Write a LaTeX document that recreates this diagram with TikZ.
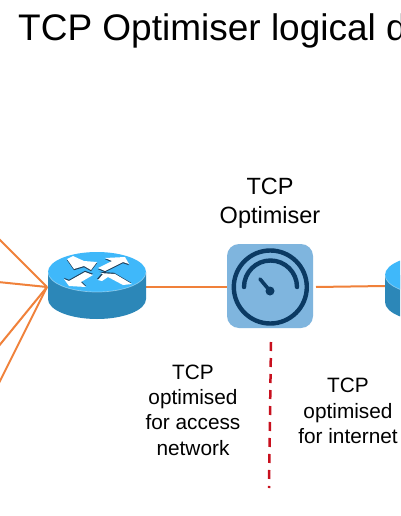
\documentclass[tikz,border=0pt]{standalone}
\usepackage{fontspec}
\setmainfont{Liberation Sans}
\definecolor{linkor}{HTML}{F0813A}
\definecolor{rtop}{HTML}{3FB8FA}
\definecolor{rside}{HTML}{2C87B8}
\definecolor{rshadow}{HTML}{1F3F5A}
\definecolor{gbox}{HTML}{7FB5DE}
\definecolor{gdark}{HTML}{0B3A63}
\definecolor{cutred}{HTML}{C8101E}
\tikzset{
  link/.style={draw=linkor,line width=2pt},
  lab/.style={align=center,font=\fontsize{20.8}{25.4}\selectfont,inner sep=0pt},
  biglab/.style={align=center,font=\fontsize{23.5}{29}\selectfont,inner sep=0pt},
  cut/.style={draw=cutred,line width=2.5pt,dash pattern=on 9pt off 7pt},
  gaugeline/.style={draw=gdark,line width=4.4pt,line cap=round},
}
\newcommand{\routerbody}[2]{%
  \fill[rside] (#1-49,#2) -- (#1-49,#2+27) arc[start angle=180,end angle=0,x radius=49,y radius=20] -- (#1+49,#2) -- cycle;
  \fill[rtop] (#1,#2) ellipse[x radius=49,y radius=20];
  \draw[white,opacity=.4,line width=.7pt] (#1-49,#2) arc[start angle=180,end angle=0,x radius=49,y radius=20];
}
\begin{document}
\begin{tikzpicture}[x=1pt,y=-1pt]
\useasboundingbox (0,0) rectangle (400,516);
\clip (0,0) rectangle (400,516);
\fill[white] (0,0) rectangle (400,516);
\coordinate (f1) at (-2,238);
\coordinate (f2) at (-2,282);
\coordinate (f3) at (-2,347);
\coordinate (f4) at (-2,385);
\coordinate (rl) at (47,287);
\coordinate (rlr) at (146,287);
\coordinate (grl) at (227,287);
\coordinate (grr) at (316,287);
\coordinate (rrl) at (385,286);
\coordinate (c1) at (271,342);
\coordinate (c2) at (269,488);
\draw[link] (f1) -- (rl);
\draw[link] (f2) -- (rl);
\draw[link] (f3) -- (rl);
\draw[link] (f4) -- (rl);
\draw[link] (rlr) -- (grl);
\draw[link] (grr) -- (rrl);
\draw[cut] (c1) -- (c2);
% routers
\routerbody{97}{272}
\routerbody{434}{275}
\begin{scope}[shift={(97,272)}]
  \fill[rshadow,shift={(0,1.2)}] (-30,-13) -- (-24,-16) -- (-13,-11) -- (0,-10) -- (-6,-2) -- (-13,-6) -- (-23,-3) -- cycle;
  \fill[white] (-30,-13) -- (-24,-16) -- (-13,-11) -- (0,-10) -- (-6,-2) -- (-13,-6) -- (-23,-3) -- cycle;
  \fill[rshadow,shift={(0,1.2)}] (1,-4) -- (15,-11) -- (8,-14) -- (28,-15) -- (32,-8) -- (26,-10) -- (8,-1) -- cycle;
  \fill[white] (1,-4) -- (15,-11) -- (8,-14) -- (28,-15) -- (32,-8) -- (26,-10) -- (8,-1) -- cycle;
  \fill[rshadow,shift={(0,-1.2)}] (-33,7) -- (-28,9) -- (-12,0) -- (-4,3) -- (-16,10) -- (-11,15) -- (-28,14) -- cycle;
  \fill[white] (-33,7) -- (-28,9) -- (-12,0) -- (-4,3) -- (-16,10) -- (-11,15) -- (-28,14) -- cycle;
  \fill[rshadow,shift={(-.8,-1.2)}] (1,8) -- (6,2) -- (3,1) -- (18,2) -- (35,12) -- (26,13) -- (11,5) -- (5,9) -- cycle;
  \fill[white] (1,8) -- (6,2) -- (3,1) -- (18,2) -- (35,12) -- (26,13) -- (11,5) -- (5,9) -- cycle;
\end{scope}
% gauge
\fill[gbox,rounded corners=12pt] (227,244) rectangle (313,328);
\draw[gaugeline] (270.3,287) circle[radius=36.5];
\draw[gaugeline] (244,287) arc[start angle=180,end angle=360,radius=26.5];
\draw[gaugeline,line width=3.6pt] (260,279) -- (270,291);
\fill[gdark] (270,291) circle[radius=4.5];
% text
\node[inner sep=0pt,anchor=base west,font=\fontsize{37}{40}\selectfont] (title) at (18,41) {TCP Optimiser logical d};
\node[biglab] (t1) at (270,203) {TCP\\Optimiser};
\node[lab] (t2) at (193,410) {TCP\\optimised\\for access\\network};
\node[lab] (t3) at (348,411) {TCP\\optimised\\for internet};
\end{tikzpicture}
\end{document}
